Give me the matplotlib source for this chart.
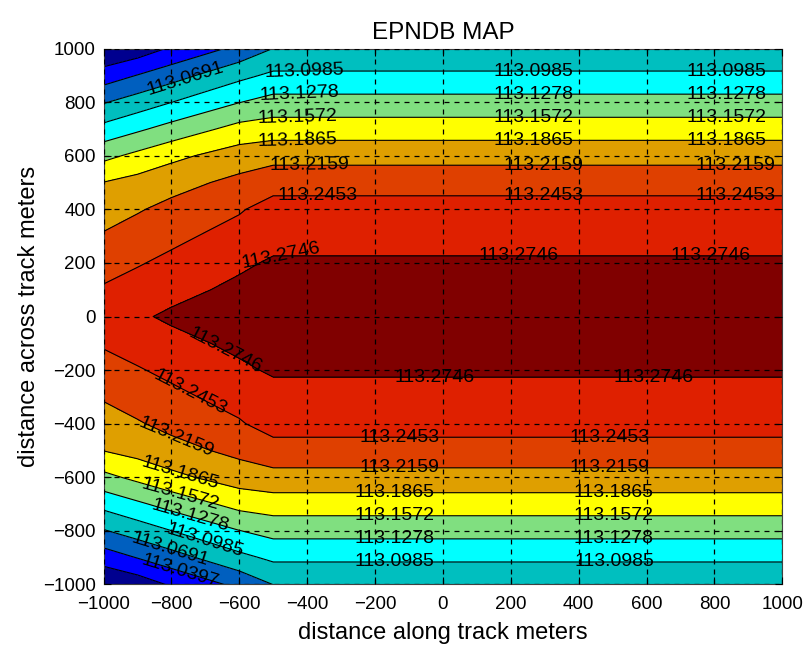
import numpy as np
import matplotlib.pyplot as plt

plt.rcParams['font.family'] = ['Liberation Sans', 'DejaVu Sans']

# stations along track (m); the profile at -500 holds on to +1000
along_track = [-1000, -900, -800, -600, -500, 1000]
# stations across track (m)
across_track = [-1000, -900, -800, -700, -600, -500, -400, -300, -200, -100, 0,
                100, 200, 300, 400, 500, 600, 700, 800, 900, 1000]

# EPNDB, one list per along-track station (bottom -> top)
epndb_at_m1000 = [112.9815, 113.0240, 113.0669, 113.1077, 113.1493, 113.1871, 113.2029,
                  113.2186, 113.2338, 113.2484, 113.2615, 113.2484, 113.2338, 113.2186,
                  113.2029, 113.1871, 113.1493, 113.1077, 113.0669, 113.0240, 112.9815]
epndb_at_m900 = [112.9937, 113.0405, 113.0825, 113.1230, 113.1643, 113.1964, 113.2134,
                 113.2284, 113.2430, 113.2571, 113.2705, 113.2571, 113.2430, 113.2284,
                 113.2134, 113.1964, 113.1643, 113.1230, 113.0825, 113.0405, 112.9937]
epndb_at_m800 = [113.0140, 113.0569, 113.0981, 113.1382, 113.1792, 113.2056, 113.2239,
                 113.2382, 113.2521, 113.2657, 113.2794, 113.2657, 113.2521, 113.2382,
                 113.2239, 113.2056, 113.1792, 113.1382, 113.0981, 113.0569, 113.0140]
epndb_at_m600 = [113.0470, 113.0907, 113.1270, 113.1670, 113.2004, 113.2235, 113.2425,
                 113.2565, 113.2696, 113.2810, 113.2850, 113.2810, 113.2696, 113.2565,
                 113.2425, 113.2235, 113.2004, 113.1670, 113.1270, 113.0907, 113.0470]
epndb_at_m500 = [113.0695, 113.1040, 113.1379, 113.1720, 113.2061, 113.2338, 113.2570,
                 113.2650, 113.2780, 113.2860, 113.2900, 113.2860, 113.2780, 113.2650,
                 113.2570, 113.2338, 113.2061, 113.1720, 113.1379, 113.1040, 113.0695]

levels = [113.0104, 113.0397, 113.0691, 113.0985, 113.1278,
          113.1572, 113.1865, 113.2159, 113.2453, 113.2746]
band_colors = ['#00008f', '#0000ff', '#005fbf', '#00bfbf', '#00ffff', '#80df80',
               '#ffff00', '#df9f00', '#df4000', '#df2000', '#800000']

ticks = [-1000, -800, -600, -400, -200, 0, 200, 400, 600, 800, 1000]

X, Y = np.meshgrid(along_track, across_track)
Z = np.column_stack([epndb_at_m1000, epndb_at_m900, epndb_at_m800, epndb_at_m600,
                     epndb_at_m500, epndb_at_m500])

fig = plt.figure(figsize=(8.09, 6.56), dpi=100)
ax = fig.add_axes([0.128, 0.109, 0.839, 0.817])

fill_levels = [112.95] + levels + [113.32]
ax.contourf(X, Y, Z, levels=fill_levels, colors=band_colors)
cs = ax.contour(X, Y, Z, levels=levels, colors='k', linewidths=0.8)

# label spots, roughly where matlab put them
label_spots = [
    (-760, 896),
    (-408, 916), (268, 916), (836, 916),
    (-422, 831), (268, 831), (836, 831),
    (-428, 741), (268, 741), (836, 741),
    (-428, 660), (268, 660), (836, 660),
    (-393, 570), (297, 570), (862, 570),
    (-370, 452), (297, 452), (862, 452),
    (-476, 225), (224, 225), (788, 225),
    (-643, -130), (-26, -228), (620, -228),
    (-746, -286), (-128, -455), (490, -455),
    (-790, -461), (-128, -572), (490, -572),
    (-775, -591), (-143, -661), (504, -661),
    (-775, -663), (-143, -742), (504, -742),
    (-746, -745), (-143, -832), (504, -832),
    (-702, -837), (-143, -917), (504, -917),
    (-805, -876),
    (-775, -950),
]
ax.clabel(cs, manual=label_spots, inline=False, fmt='%.4f', fontsize=14, colors='k')

ax.set_xlim(-1000, 1000)
ax.set_ylim(-1000, 1000)
ax.set_xticks(ticks)
ax.set_yticks(ticks)
ax.tick_params(direction='in', top=True, right=True, labelsize=13.5, length=5)
ax.tick_params(axis='x', pad=8)
ax.tick_params(axis='y', pad=5.5)
ax.set_axisbelow(False)
ax.grid(True, color='k', linestyle=(0, (4, 4)), linewidth=0.9)
for s in ax.spines.values():
    s.set_color('#404040')
    s.set_linewidth(0.8)

ax.set_title('EPNDB MAP', fontsize=17.5, pad=7)
ax.set_xlabel('distance along track meters', fontsize=17, labelpad=7)
ax.set_ylabel('distance across track meters', fontsize=17, labelpad=2.5)

fig.savefig('out.png', dpi=100)
